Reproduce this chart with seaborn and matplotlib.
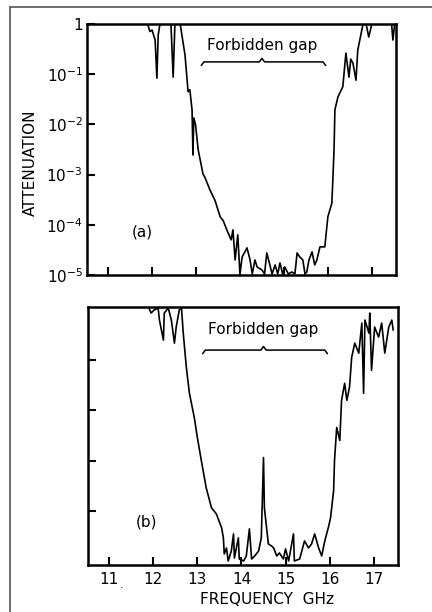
import numpy as np
import pandas as pd
import matplotlib.pyplot as plt
import matplotlib.transforms as mtransforms
from matplotlib.lines import Line2D
import seaborn as sns

# (a) measured attenuation, frequency in GHz and log10 of attenuation
freq_a = [11.90, 11.95, 12.00, 12.07, 12.11, 12.14, 12.18, 12.43, 12.48, 12.52,
          12.64, 12.75, 12.82, 12.86, 12.91, 12.93, 12.95, 12.99, 13.05, 13.16,
          13.20, 13.32, 13.43, 13.55, 13.62, 13.70, 13.80, 13.84, 13.89, 13.95,
          14.00, 14.05, 14.16, 14.23, 14.28, 14.34, 14.39, 14.50, 14.56, 14.61,
          14.68, 14.73, 14.80, 14.86, 14.91, 14.97, 15.02, 15.10, 15.18, 15.25,
          15.30, 15.36, 15.43, 15.48, 15.52, 15.57, 15.64, 15.70, 15.75, 15.82,
          15.93, 16.00, 16.09, 16.11, 16.14, 16.16, 16.23, 16.34, 16.41, 16.48,
          16.52, 16.57, 16.64, 16.68, 16.80, 16.87, 16.93, 17.00, 17.45, 17.48,
          17.52, 17.55]
log_att_a = [0.0, -0.15, -0.12, -0.32, -1.08, -0.22, 0.0, 0.0, -1.06, 0.0,
             0.0, -0.62, -1.35, -1.31, -1.71, -2.61, -1.87, -2.01, -2.51, -2.99,
             -3.05, -3.31, -3.51, -3.84, -3.92, -4.10, -4.30, -4.10, -4.70, -4.20,
             -4.98, -4.64, -4.46, -4.70, -4.98, -4.70, -4.84, -4.90, -4.98, -4.56,
             -4.80, -4.98, -4.80, -4.98, -4.76, -4.98, -4.84, -4.98, -4.94, -4.98,
             -4.56, -4.64, -4.70, -4.98, -4.94, -4.70, -4.54, -4.80, -4.70, -4.44,
             -4.44, -3.84, -3.57, -3.17, -2.51, -1.71, -1.45, -1.25, -0.58, -1.06,
             -0.70, -0.78, -1.12, -0.52, 0.0, 0.0, -0.26, 0.0, 0.0, -0.32,
             0.0, 0.0]

# (b) same crystal, second measurement
freq_b = [11.91, 11.95, 12.02, 12.11, 12.14, 12.23, 12.25, 12.34, 12.41, 12.48,
          12.52, 12.59, 12.64, 12.68, 12.75, 12.82, 12.93, 13.00, 13.09, 13.20,
          13.32, 13.43, 13.55, 13.59, 13.61, 13.66, 13.70, 13.77, 13.82, 13.84,
          13.93, 13.95, 14.05, 14.11, 14.18, 14.23, 14.30, 14.39, 14.45, 14.50,
          14.52, 14.61, 14.68, 14.73, 14.80, 14.86, 14.95, 15.00, 15.07, 15.18,
          15.20, 15.32, 15.43, 15.52, 15.59, 15.66, 15.75, 15.82, 15.89, 15.98,
          16.02, 16.09, 16.11, 16.16, 16.23, 16.27, 16.34, 16.39, 16.45, 16.50,
          16.57, 16.66, 16.73, 16.77, 16.80, 16.89, 16.91, 16.95, 17.02, 17.11,
          17.18, 17.25, 17.34, 17.41, 17.44]
log_att_b = [0.02, -0.06, 0.0, 0.04, -0.20, -0.60, -0.06, 0.04, -0.20, -0.66,
             -0.34, 0.0, 0.04, -0.46, -1.14, -1.66, -2.14, -2.54, -3.00, -3.54,
             -3.94, -4.06, -4.34, -4.54, -4.86, -4.74, -5.00, -4.80, -4.46, -4.94,
             -4.54, -4.96, -5.00, -4.90, -4.36, -4.96, -4.90, -4.80, -4.54, -2.94,
             -3.94, -4.66, -4.70, -4.74, -4.90, -4.84, -4.96, -4.76, -5.00, -4.46,
             -5.00, -4.96, -4.60, -4.74, -4.66, -4.46, -4.74, -4.90, -4.60, -4.30,
             -4.14, -3.60, -3.00, -2.34, -2.60, -1.80, -1.46, -1.80, -1.54, -0.94,
             -0.66, -0.86, -0.26, -1.66, -0.20, -0.46, -0.06, -1.20, -0.34, -0.54,
             -0.26, -0.86, -0.34, -0.20, -0.40]

freq_ticks = [11, 12, 13, 14, 15, 16, 17]
att_ticks_a = [1, 1e-1, 1e-2, 1e-3, 1e-4, 1e-5]
att_labels_a = ['1', '$10^{-1}$', '$10^{-2}$', '$10^{-3}$', '$10^{-4}$', '$10^{-5}$']
att_ticks_b = [1e-1, 1e-2, 1e-3, 1e-4]
gap_start, gap_mid, gap_end = 13.12, 14.5, 15.95

sns.set_style('white')
plt.rcParams['font.family'] = ['DejaVu Sans']
plt.rcParams['mathtext.default'] = 'regular'
plt.rcParams['text.color'] = 'black'
plt.rcParams['xtick.color'] = 'black'
plt.rcParams['ytick.color'] = 'black'

df_a = pd.DataFrame({'freq': freq_a, 'att': 10 ** np.array(log_att_a)})
df_b = pd.DataFrame({'freq': freq_b, 'att': 10 ** np.array(log_att_b)})

fig = plt.figure(figsize=(4.32, 6.12), dpi=100)
ax_a = fig.add_axes([87 / 432, 1 - 275 / 612, 309 / 432, 251 / 612])
ax_b = fig.add_axes([88 / 432, 1 - 565 / 612, 310 / 432, 258 / 612])


def draw_bracket(ax, y0):
    trans = mtransforms.blended_transform_factory(ax.transData, ax.transAxes)
    d = 0.014
    xs = [gap_start, gap_start + 0.06, gap_mid - 0.06, gap_mid, gap_mid + 0.06,
          gap_end - 0.06, gap_end]
    ys = [y0 - d, y0, y0, y0 + d, y0, y0, y0 - d]
    ax.plot(xs, ys, color='black', lw=1.1, transform=trans, clip_on=False)


for ax, df, ylim in [(ax_a, df_a, (1e-5, 1)), (ax_b, df_b, (10 ** -5.08, 10 ** 0.06))]:
    ax.set_yscale('log')
    sns.lineplot(data=df, x='freq', y='att', ax=ax, color='black', lw=1.2,
                 sort=False, estimator=None)
    ax.set_xlim(10.52, 17.55)
    ax.set_ylim(*ylim)
    ax.set_xlabel('')
    ax.set_ylabel('')
    ax.set_xticks(freq_ticks)
    ax.minorticks_off()
    for sp in ax.spines.values():
        sp.set_linewidth(1.8)
        sp.set_color('black')
    ax.tick_params(direction='in', length=6, width=1.5, labelsize=11, pad=5,
                   bottom=True, left=True, colors='black')

ax_a.set_yticks(att_ticks_a)
ax_a.set_yticklabels(att_labels_a)
ax_a.minorticks_off()
ax_a.tick_params(axis='y', pad=3)
ax_a.set_xticklabels([])
ax_b.set_yticks(att_ticks_b)
ax_b.set_yticklabels([])
ax_b.minorticks_off()
ax_b.set_xticklabels([str(t) for t in freq_ticks])

ax_a.text(gap_mid, 0.916, 'Forbidden gap', transform=mtransforms.blended_transform_factory(
    ax_a.transData, ax_a.transAxes), ha='center', va='center', fontsize=11)
draw_bracket(ax_a, 0.849)
ax_b.text(gap_mid, 0.911, 'Forbidden gap', transform=mtransforms.blended_transform_factory(
    ax_b.transData, ax_b.transAxes), ha='center', va='center', fontsize=11)
draw_bracket(ax_b, 0.833)

ax_a.text(0.18, 0.171, '(a)', transform=ax_a.transAxes, ha='center', va='center', fontsize=11)
ax_b.text(0.19, 0.167, '(b)', transform=ax_b.transAxes, ha='center', va='center', fontsize=11)

fig.text(30 / 432, 1 - 163 / 612, 'ATTENUATION', rotation=90, ha='center', va='center',
         fontsize=11)
fig.text(267 / 432, 1 - 600 / 612, 'FREQUENCY  GHz', ha='center', va='center', fontsize=11)
fig.text(122 / 432, 1 - 585 / 612, '.', ha='center', va='center', fontsize=8)

# outer frame of the scanned figure
fig.add_artist(Line2D([10 / 432, 1], [1 - 7 / 612, 1 - 7 / 612], color='#555555', lw=1.2))
fig.add_artist(Line2D([10 / 432, 10 / 432], [0, 1 - 7 / 612], color='#555555', lw=1.2))

fig.savefig('out.png', dpi=100, facecolor='white')
